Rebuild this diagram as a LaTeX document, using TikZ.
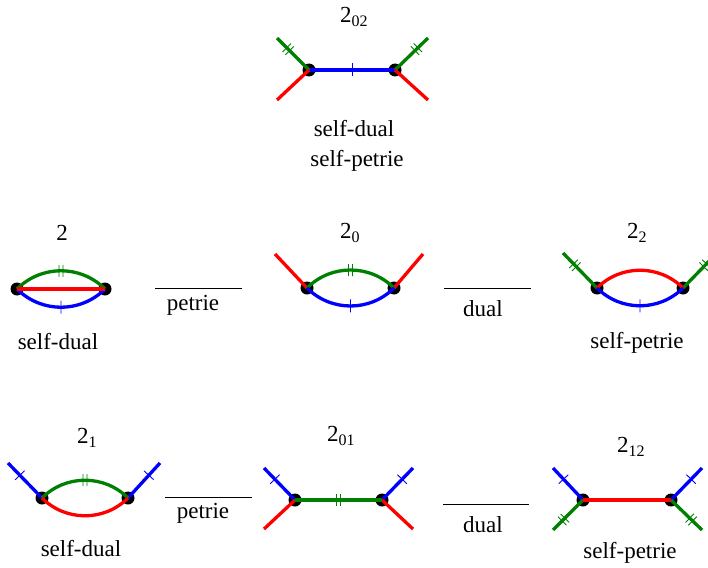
\documentclass[tikz,border=0pt]{standalone}
\usepackage{fontspec}
\setmainfont{Liberation Serif}
\newfontfamily\termsx{Liberation Serif}
\usetikzlibrary{decorations.markings}
\definecolor{dgreen}{RGB}{0,128,0}
\tikzset{
 edge/.style={line width=3.3pt},
 vtx/.style={circle, fill=black, inner sep=0pt, minimum size=13pt},
 onetick/.style={postaction={decorate, decoration={markings, mark=at position #1 with {\draw[line width=0.9pt] (0,-6.5) -- (0,6.5);}}}},
 twotick/.style={postaction={decorate, decoration={markings, mark=at position #1 with {\draw[line width=0.9pt] (-2,-6) -- (-2,6) (2,-6) -- (2,6);}}}},
 lbl/.style={font=\termsx\fontsize{23}{26}\selectfont, inner sep=0pt},
 rel/.style={line width=0.8pt},
}
\newcommand{\sbx}[1]{{\fontsize{16}{16}\selectfont\raisebox{-4pt}{#1}}}
\begin{document}
\begin{tikzpicture}[x=1pt,y=-1pt]
\useasboundingbox (0,0) rectangle (708,567);
\clip (0,0) rectangle (708,567);
% ---------- top: 2_02 ----------
\node[vtx] (A1) at (309,70) {};
\node[vtx] (A2) at (395,70) {};
\coordinate (Agl) at (277,38);
\coordinate (Arl) at (277,100);
\coordinate (Agr) at (428,38);
\coordinate (Arr) at (428,100);
\draw[edge, blue, onetick=0.5] (A1.center) -- (A2.center);
\draw[edge, dgreen, twotick=0.35] (Agl) -- (A1.center);
\draw[edge, red] (Arl) -- (A1.center);
\draw[edge, dgreen, twotick=0.35] (Agr) -- (A2.center);
\draw[edge, red] (A2.center) -- (Arr);
\node[lbl, anchor=base west] (t02) at (340,23) {2\sbx{02}};
\node[lbl, anchor=base] (sd0) at (354,136) {self-dual};
\node[lbl, anchor=base] (sp0) at (357,166) {self-petrie};
% ---------- row 2: 2 ----------
\node[vtx] (B1) at (17,289) {};
\node[vtx] (B2) at (105,289) {};
\draw[edge, dgreen, twotick=0.5] (B1.center) to[bend left=45] (B2.center);
\draw[edge, blue, onetick=0.5] (B1.center) to[bend right=45] (B2.center);
\draw[edge, red] (B1.center) -- (B2.center);
\node[lbl, anchor=base] (l2) at (62,240) {2};
\node[lbl, anchor=base] (sd1) at (58,349) {self-dual};
% petrie relation
\coordinate (p1a) at (155,288);
\coordinate (p1b) at (242,288);
\draw[rel] (p1a) -- (p1b);
\node[lbl, anchor=base] (pet1) at (193,310) {petrie};
% ---------- row 2: 2_0 ----------
\node[vtx] (C1) at (307,288) {};
\node[vtx] (C2) at (394,288) {};
\coordinate (Crl) at (275,254);
\coordinate (Crr) at (423,254);
\draw[edge, red] (Crl) -- (C1.center);
\draw[edge, red] (C2.center) -- (Crr);
\draw[edge, dgreen, twotick=0.5] (C1.center) to[bend left=45] (C2.center);
\draw[edge, blue, onetick=0.5] (C1.center) to[bend right=45] (C2.center);
\node[lbl, anchor=base west] (l20) at (340,238) {2\sbx{0}};
% dual relation
\coordinate (d1a) at (444,288);
\coordinate (d1b) at (531,288);
\draw[rel] (d1a) -- (d1b);
\node[lbl, anchor=base] (dual1) at (483,316) {dual};
% ---------- row 2: 2_2 ----------
\node[vtx] (D1) at (597,288) {};
\node[vtx] (D2) at (683,288) {};
\coordinate (Dgl) at (563,253);
\coordinate (Dgr) at (717,253);
\draw[edge, dgreen, twotick=0.35] (Dgl) -- (D1.center);
\draw[edge, dgreen, twotick=0.35] (Dgr) -- (D2.center);
\draw[edge, red] (D1.center) to[bend left=45] (D2.center);
\draw[edge, blue, onetick=0.5] (D1.center) to[bend right=45] (D2.center);
\node[lbl, anchor=base west] (l22) at (627,238) {2\sbx{2}};
\node[lbl, anchor=base] (sp1) at (637,348) {self-petrie};
% ---------- row 3: 2_1 ----------
\node[vtx] (E1) at (42,498) {};
\node[vtx] (E2) at (128,498) {};
\coordinate (Ebl) at (8,463);
\coordinate (Ebr) at (160,463);
\draw[edge, blue, onetick=0.35] (Ebl) -- (E1.center);
\draw[edge, blue, onetick=0.35] (Ebr) -- (E2.center);
\draw[edge, dgreen, twotick=0.5] (E1.center) to[bend left=45] (E2.center);
\draw[edge, red] (E1.center) to[bend right=45] (E2.center);
\node[lbl, anchor=base west] (l21) at (77,443) {2\sbx{1}};
\node[lbl, anchor=base] (sd2) at (81,556) {self-dual};
% petrie relation
\coordinate (p2a) at (165,497);
\coordinate (p2b) at (252,497);
\draw[rel] (p2a) -- (p2b);
\node[lbl, anchor=base] (pet2) at (203,518) {petrie};
% ---------- row 3: 2_01 ----------
\node[vtx] (F1) at (295,500) {};
\node[vtx] (F2) at (382,500) {};
\coordinate (Fbl) at (264,468);
\coordinate (Fbr) at (413,468);
\coordinate (Frl) at (264,529);
\coordinate (Frr) at (413,529);
\draw[edge, blue, onetick=0.35] (Fbl) -- (F1.center);
\draw[edge, blue, onetick=0.35] (Fbr) -- (F2.center);
\draw[edge, red] (Frl) -- (F1.center);
\draw[edge, red] (F2.center) -- (Frr);
\draw[edge, dgreen, twotick=0.5] (F1.center) -- (F2.center);
\node[lbl, anchor=base west] (l201) at (327,441) {2\sbx{01}};
% dual relation
\coordinate (d2a) at (443,504);
\coordinate (d2b) at (529,504);
\draw[rel] (d2a) -- (d2b);
\node[lbl, anchor=base] (dual2) at (483,532) {dual};
% ---------- row 3: 2_12 ----------
\node[vtx] (G1) at (583,500) {};
\node[vtx] (G2) at (671,500) {};
\coordinate (Gbl) at (553,468);
\coordinate (Gbr) at (702,468);
\coordinate (Ggl) at (553,530);
\coordinate (Ggr) at (702,530);
\draw[edge, blue, onetick=0.35] (Gbl) -- (G1.center);
\draw[edge, blue, onetick=0.35] (Gbr) -- (G2.center);
\draw[edge, dgreen, twotick=0.35] (Ggl) -- (G1.center);
\draw[edge, dgreen, twotick=0.35] (Ggr) -- (G2.center);
\draw[edge, red] (G1.center) -- (G2.center);
\node[lbl, anchor=base west] (l212) at (617,452) {2\sbx{12}};
\node[lbl, anchor=base] (sp2) at (630,558) {self-petrie};
\end{tikzpicture}
\end{document}
